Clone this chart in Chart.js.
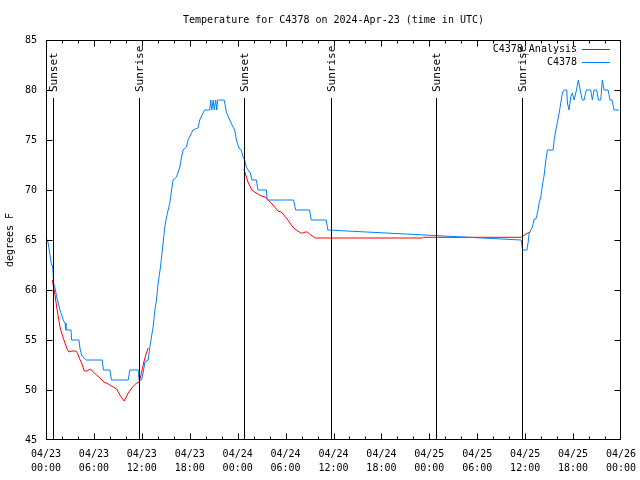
<!DOCTYPE html>
<html><head><meta charset="utf-8">
<script src="https://cdn.jsdelivr.net/npm/chart.js@4/dist/chart.umd.min.js"></script>
<style>html,body{margin:0;padding:0;background:#fff}#c{display:block}</style>
</head><body>
<canvas id="c" width="640" height="480"></canvas>
<script>
const FONT = "'DejaVu Sans Mono', 'Liberation Mono', monospace";
const titleText = 'Temperature for C4378 on 2024-Apr-23 (time in UTC)';
const yAxisTitle = 'degrees F';

// x tick labels every 6 hours from 2024-04-23 00:00 UTC
const xTickHours = [0, 6, 12, 18, 24, 30, 36, 42, 48, 54, 60, 66, 72];
const xTickDates = ['04/23','04/23','04/23','04/23','04/24','04/24','04/24','04/24','04/25','04/25','04/25','04/25','04/26'];
const xTickTimes = ['00:00','06:00','12:00','18:00','00:00','06:00','12:00','18:00','00:00','06:00','12:00','18:00','00:00'];

// Observed C4378 (hours since 04/23 00:00, deg F)
const obsHours = [0,0.19,0.31,0.5,0.69,0.81,0.91,0.94,1.13,1.34,1.54,1.75,1.96,2.16,2.38,2.5,3.13,3.21,4.13,4.25,4.46,4.75,5.06,7.04,7.19,8,8.19,10.29,10.5,11.54,11.66,11.96,12.16,12.38,12.79,13,13.41,13.63,13.84,14.04,14.34,14.66,14.88,15.09,15.5,15.91,16.34,16.75,16.96,17.16,17.59,17.79,18.41,19.04,19.25,19.66,19.88,20.5,20.63,20.75,20.94,21.06,21.25,21.38,21.5,21.75,22.31,22.59,23,23.41,23.63,23.84,24.16,24.46,24.66,24.88,25.09,25.29,25.59,25.79,26.34,26.54,27.59,27.71,31,31.25,33,33.21,35.09,35.29,59.5,59.69,60.21,60.38,60.5,60.71,60.91,61.13,61.34,61.54,61.75,61.96,62.16,62.38,62.59,62.79,63.5,63.63,63.84,64.04,64.25,64.46,64.66,64.88,65.21,65.29,65.5,65.71,65.91,66.13,66.34,66.54,66.66,66.96,67.16,67.38,67.66,68.21,68.41,68.63,68.96,69.16,69.46,69.66,69.88,70.38,70.63,70.88,71.13,71.75];
const obsTemps = [65,65,64.5,63.5,62.5,62.5,61.5,60.7,60.2,59.3,58.7,58,57.5,57,56.7,56,56,55,55,54.2,53.5,53.2,53,53,52,52,51,51,52,52,51,51,51.7,52.8,53,54.3,56.3,58,59,60.7,62.3,64.7,66.3,67.3,68.7,71,71.3,72.3,73.2,74,74.3,75,76,76.2,77,77.7,78,78,79,78,79,78,79,78,79,79,79,77.8,77,76.3,76,75,74.2,74,73.3,73,72.3,72,71.7,71,71,70,70,69,69,68,68,67,67,66,65,64,64,64.8,65.7,66,66.3,67.1,67.1,67.7,68.7,69.3,70.5,71.5,73,74,74,75,76,76.8,77.7,78.7,79.7,80,80,78.7,78,79.3,79.7,79,79.7,80.5,81,79.7,79,79,80,80,79,80,80,79,79,81,80,80,79,79,78,78];

// Analysis C4378_Analysis (null = no analysis)
const anaHours = [0.79,1.13,1.34,1.54,1.75,1.96,2.16,2.38,2.59,2.88,3.21,3.75,3.94,4.16,4.46,4.79,5.13,5.59,5.91,6.34,6.75,7.25,7.79,8.21,8.84,9.25,9.79,10.29,10.84,11.34,11.66,11.96,12.25,12.5,12.79,18,24.79,25.09,25.29,25.59,25.79,26.13,26.54,26.96,27.5,27.79,28.21,28.63,29.04,29.46,29.88,30.29,30.71,31.13,31.54,31.88,32.16,32.5,32.75,33,33.34,33.75,47.13,47.25,59.5,60.09,60.63];
const anaTemps = [61,59.5,58.3,57.3,56.3,55.7,55.2,54.7,54.2,53.8,53.9,53.9,53.7,53.2,52.7,51.9,51.9,52.1,51.8,51.5,51.2,50.8,50.6,50.4,50.1,49.5,48.9,49.7,50.3,50.7,50.8,51.7,52.8,53.5,54.2,null,72.1,71.3,70.8,70.3,70,69.8,69.6,69.4,69.3,69,68.7,68.3,67.9,67.8,67.4,67,66.5,66.1,65.9,65.7,65.7,65.8,65.8,65.6,65.4,65.2,65.2,65.27,65.27,65.6,65.8];

// Sunrise / sunset markers
const sunHours = [0.91, 11.67, 24.79, 35.67, 48.79, 59.59];
const sunLabels = ['Sunset','Sunrise','Sunset','Sunrise','Sunset','Sunrise'];

const seriesNames = ['C4378_Analysis', 'C4378'];
const RED = '#ff0000', BLUE = '#0080ff';

const toPts = (xs, ys) => xs.map((x, i) => ({x: x, y: ys[i]}));

const decor = {
  id: 'decor',
  afterDatasetsDraw(chart) {
    const ctx = chart.ctx, a = chart.chartArea;
    const xs = chart.scales.x, ys = chart.scales.y;
    ctx.save();
    ctx.strokeStyle = '#000'; ctx.lineWidth = 1;
    const L0 = Math.round(a.left) + 0.5, R0 = Math.round(a.right) - 0.5;
    const T0 = Math.round(a.top) + 0.5, B0 = Math.round(a.bottom) - 0.5;
    const cl = (v, lo, hi) => Math.min(Math.max(v, lo), hi);
    ctx.strokeRect(L0, T0, R0 - L0, B0 - T0);
    ctx.beginPath();
    for (let h = 0; h <= 72; h += 2) {
      const px = cl(Math.round(xs.getPixelForValue(h)) + 0.5, L0, R0);
      const L = (h % 6 === 0) ? 6 : 3;
      ctx.moveTo(px, B0); ctx.lineTo(px, B0 - L);
      ctx.moveTo(px, T0); ctx.lineTo(px, T0 + L);
    }
    for (let v = 45; v <= 85; v += 5) {
      const py = cl(Math.round(ys.getPixelForValue(v)) + 0.5, T0, B0);
      ctx.moveTo(L0, py); ctx.lineTo(L0 + 6, py);
      ctx.moveTo(R0, py); ctx.lineTo(R0 - 6, py);
    }
    ctx.stroke();
    // sun lines
    ctx.beginPath();
    sunHours.forEach(h => {
      const px = Math.round(xs.getPixelForValue(h)) + 0.5;
      ctx.moveTo(px, 98); ctx.lineTo(px, B0);
    });
    ctx.stroke();
    ctx.fillStyle = '#000';
    ctx.font = '11px ' + FONT;
    sunHours.forEach((h, i) => {
      const px = Math.round(xs.getPixelForValue(h)) + 1;
      ctx.save();
      ctx.translate(px, 92);
      ctx.rotate(-Math.PI / 2);
      ctx.textAlign = 'left'; ctx.textBaseline = 'middle';
      ctx.fillText(sunLabels[i], 0, 0);
      ctx.restore();
    });
    // legend
    ctx.font = '10px ' + FONT;
    ctx.textAlign = 'right'; ctx.textBaseline = 'middle';
    const cols = [RED, BLUE];
    seriesNames.forEach((n, i) => {
      const y = 49.5 + i * 13;
      ctx.fillStyle = '#000';
      ctx.fillText(n, 577, y);
      ctx.strokeStyle = cols[i];
      ctx.beginPath(); ctx.moveTo(582, y); ctx.lineTo(610, y); ctx.stroke();
    });
    // title
    ctx.fillStyle = '#000';
    ctx.textAlign = 'center';
    ctx.fillText(titleText, (a.left + a.right) / 2, 20);
    ctx.restore();
  }
};

new Chart(document.getElementById('c'), {
  type: 'scatter',
  data: {
    datasets: [
      { label: seriesNames[1], data: toPts(obsHours, obsTemps), showLine: true, borderColor: BLUE, borderWidth: 1, pointRadius: 0, tension: 0, fill: false },
      { label: seriesNames[0], data: toPts(anaHours, anaTemps), showLine: true, spanGaps: false, borderColor: RED, borderWidth: 1, pointRadius: 0, tension: 0, fill: false }
    ]
  },
  options: {
    responsive: false, animation: false, devicePixelRatio: 1,
    layout: { padding: { top: 40, right: 19, left: 0, bottom: 0 } },
    plugins: { legend: { display: false }, tooltip: { enabled: false }, title: { display: false } },
    scales: {
      x: {
        type: 'linear', min: 0, max: 72,
        afterBuildTicks: s => { s.ticks = xTickHours.map(v => ({value: v})); },
        afterFit: s => { s.height = 40; s.paddingLeft = 0; s.paddingRight = 0; },
        grid: { display: false, drawTicks: false },
        border: { display: false },
        ticks: {
          autoSkip: false, maxRotation: 0, minRotation: 0, padding: 7, color: '#000',
          font: { family: FONT, size: 10, lineHeight: 1.4 },
          callback: v => { const i = xTickHours.indexOf(v); return i < 0 ? '' : [xTickDates[i], xTickTimes[i]]; }
        }
      },
      y: {
        min: 45, max: 85,
        afterFit: s => { s.width = 46; s.paddingTop = 0; s.paddingBottom = 0; },
        grid: { display: false, drawTicks: false },
        border: { display: false },
        ticks: { stepSize: 5, padding: 9, color: '#000', font: { family: FONT, size: 10 } },
        title: { display: true, text: yAxisTitle, color: '#000', font: { family: FONT, size: 10 }, padding: { top: 4, bottom: 4 } }
      }
    }
  },
  plugins: [decor]
});
</script>
</body></html>
